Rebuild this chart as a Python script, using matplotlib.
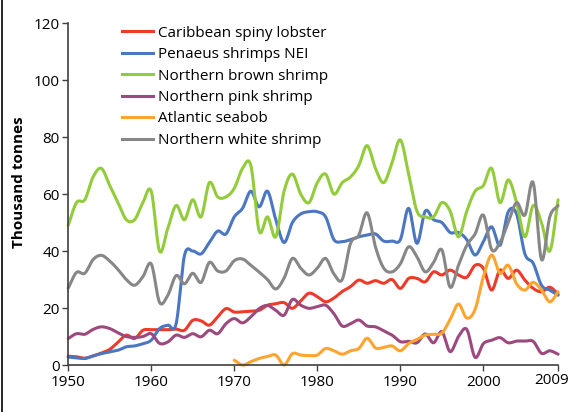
import numpy as np
import matplotlib
matplotlib.use('Agg')
import matplotlib.pyplot as plt
import matplotlib.transforms as mtransforms
from matplotlib.lines import Line2D

# Data (thousand tonnes)
years = list(range(1950, 2010))
seabob_years = list(range(1970, 2010))

lobster = [3.1, 2.9, 2.4, 3.2, 4.2, 5.5, 8.0, 10.5, 9.3, 12.2,
           12.4, 12.4, 12.4, 12.6, 12.2, 15.7, 15.5, 14.0, 16.9, 19.8,
           18.6, 18.7, 18.9, 19.2, 21.0, 21.5, 21.9, 19.9, 22.5, 25.2,
           24.0, 22.2, 23.5, 25.8, 27.5, 29.8, 28.7, 29.6, 28.7, 30.0,
           26.9, 30.4, 30.4, 29.2, 32.7, 31.6, 33.3, 31.6, 30.8, 35.0,
           33.9, 26.3, 33.3, 30.4, 33.3, 29.8, 26.9, 25.7, 27.3, 24.9]

penaeus = [2.8, 2.5, 2.3, 3.2, 4.0, 4.6, 5.2, 6.4, 6.7, 7.5,
           8.7, 12.8, 14.0, 14.5, 38.4, 40.0, 39.0, 43.0, 47.0, 46.0,
           52.0, 55.0, 61.0, 55.5, 61.0, 51.0, 43.0, 50.0, 53.0, 53.8,
           53.8, 52.0, 44.0, 43.3, 44.0, 45.0, 45.6, 46.0, 43.5, 43.5,
           44.0, 55.0, 42.7, 54.0, 51.0, 50.0, 46.5, 46.5, 44.0, 38.6,
           43.3, 48.5, 42.0, 53.8, 53.0, 39.0, 35.7, 28.0, 26.3, 24.5]

brown = [49, 57, 58, 66, 69, 63, 57, 51, 51, 57,
         61, 40, 48, 56, 51, 58, 52, 64, 59, 59,
         62, 69, 70, 47, 52, 45, 61, 67, 60, 57,
         64, 67, 60, 64, 66, 70, 77, 69, 64, 71,
         79, 67, 54, 52, 52, 57, 54, 45, 54, 61,
         63, 69, 57, 65, 57, 45, 56, 50, 40, 58]

pink = [9.3, 11.0, 10.8, 12.5, 13.4, 12.8, 11.3, 10.0, 9.7, 10.0,
        11.0, 7.6, 8.1, 10.5, 9.7, 11.0, 9.9, 12.2, 11.0, 14.5,
        16.3, 14.8, 16.9, 19.8, 20.9, 19.2, 17.5, 23.0, 21.0, 19.9,
        20.5, 21.0, 18.0, 13.7, 14.5, 15.8, 13.7, 13.4, 12.0, 10.5,
        8.2, 8.3, 7.8, 10.9, 7.8, 11.7, 4.7, 10.0, 12.5, 2.7,
        7.5, 8.7, 9.6, 7.8, 8.4, 8.4, 8.3, 4.1, 5.0, 3.8]

seabob = [1.7, 0.0, 1.2, 2.3, 3.0, 3.5, 0.0, 4.0, 3.5, 3.3,
          3.5, 5.8, 5.0, 3.8, 5.0, 5.8, 9.4, 6.0, 6.2, 6.7,
          5.0, 7.5, 9.0, 10.5, 10.8, 11.2, 16.0, 21.4, 16.5, 19.5,
          31.0, 38.6, 32.2, 35.0, 28.5, 26.3, 29.0, 26.3, 22.2, 25.7]

white = [27, 32.5, 32.2, 37, 38.5, 36.5, 33.5, 30, 28, 31,
         35.5, 22, 24.5, 31.4, 28.5, 32.2, 29, 36, 33, 33,
         36.6, 37.2, 35, 32.6, 30, 26.7, 30.5, 37.4, 34, 31.6,
         34, 37.4, 32, 30, 42.7, 45.6, 53.4, 41.5, 34, 32.7,
         35.5, 41.5, 38, 32.7, 36, 40.4, 27.3, 35, 42, 46,
         52.6, 40.5, 43, 50, 57, 52.6, 64, 37, 52, 56]

labels = ['Caribbean spiny lobster', 'Penaeus shrimps NEI', 'Northern brown shrimp',
          'Northern pink shrimp', 'Atlantic seabob', 'Northern white shrimp']
colors = ['#EE3A2A', '#4A76C2', '#93CC3A', '#9C4A7E', '#FFA42E', '#878787']
xticks = [1950, 1960, 1970, 1980, 1990, 2000, 2009]
yticks = [0, 20, 40, 60, 80, 100, 120]


# Catmull-Rom spline through the points (like Excel's smoothed line)
def smooth(x, y, n=16):
    x = np.asarray(x, float)
    y = np.asarray(y, float)
    px = np.concatenate([[2 * x[0] - x[1]], x, [2 * x[-1] - x[-2]]])
    py = np.concatenate([[2 * y[0] - y[1]], y, [2 * y[-1] - y[-2]]])
    t = np.linspace(0, 1, n, endpoint=False)[None, :]
    out = []
    for p in (px, py):
        p0, p1, p2, p3 = p[:-3, None], p[1:-2, None], p[2:-1, None], p[3:, None]
        s = 0.5 * (2 * p1 + (-p0 + p2) * t + (2 * p0 - 5 * p1 + 4 * p2 - p3) * t ** 2
                   + (-p0 + 3 * p1 - 3 * p2 + p3) * t ** 3)
        out.append(np.concatenate([s.ravel(), [p[-2]]]))
    return out


plt.rcParams['font.family'] = ['Open Sans', 'DejaVu Sans']

fig = plt.figure(figsize=(5.73, 4.12), dpi=100)
ax = fig.add_axes([0.119, 0.114, 0.855, 0.830])

series = [(years, lobster), (years, penaeus), (years, brown),
          (years, pink), (seabob_years, seabob), (years, white)]
for (xs, ys), c in zip(series, colors):
    sx, sy = smooth(xs, ys)
    ax.plot(sx, sy, color=c, lw=2.2, solid_capstyle='round', clip_on=False)

ax.set_xlim(1950, 2009)
ax.set_ylim(0, 120)
ax.set_xticks(xticks)
ax.set_yticks(yticks)
ax.tick_params(axis='both', labelsize=11, length=4, width=1, color='#404040', direction='out')
ax.tick_params(axis='x', pad=3)
ax.tick_params(axis='y', pad=2)
for s in ['top', 'right']:
    ax.spines[s].set_visible(False)
for s in ['left', 'bottom']:
    ax.spines[s].set_color('#404040')
    ax.spines[s].set_linewidth(1.2)

# last year label sits a little left and higher, so it stays inside the frame
last = ax.get_xticklabels()[-1]
last.set_transform(last.get_transform() + mtransforms.ScaledTranslation(-6 / 100, 2 / 100, fig.dpi_scale_trans))

ax.set_ylabel('Thousand tonnes', fontsize=11, fontweight='bold')
ax.yaxis.set_label_coords(-0.087, 0.535)

handles = [Line2D([0], [0], color=c, lw=2.2) for c in colors]
ax.legend(handles, labels, loc='upper left', bbox_to_anchor=(0.200, 0.956),
          bbox_transform=fig.transFigure, frameon=False, fontsize=11,
          handlelength=2.0, handletextpad=0.35, labelspacing=0.42, borderpad=0)

# frame line at the left edge of the figure
fig.add_artist(Line2D([0.004, 0.004], [0, 1], color='black', lw=1.2, transform=fig.transFigure))

fig.savefig('out.png', dpi=100)
